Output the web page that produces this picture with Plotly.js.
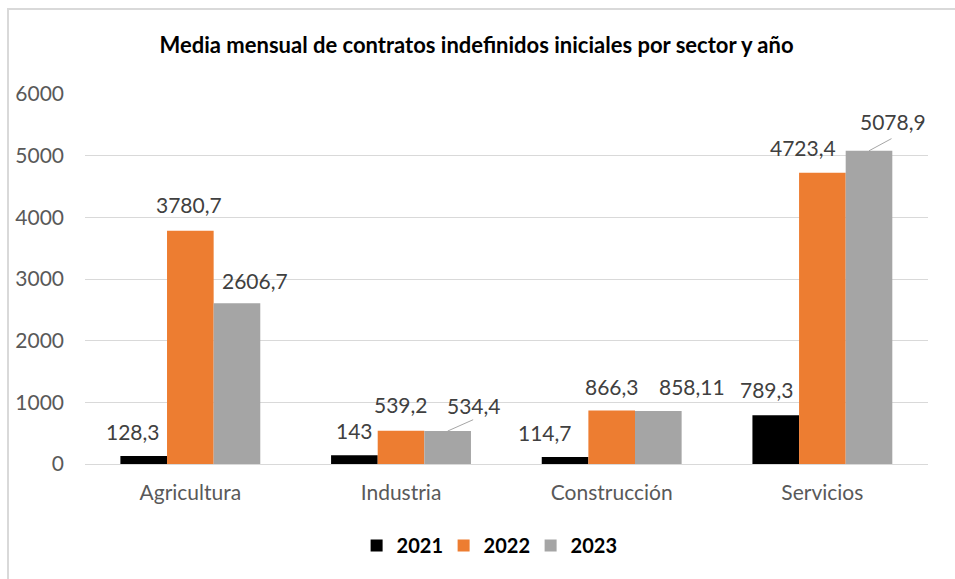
<!DOCTYPE html>
<html>
<head>
<meta charset="utf-8">
<script src="https://cdn.plot.ly/plotly-3.0.1.min.js"></script>
<style>
  html, body { margin: 0; padding: 0; background: #fff; }
  #chart { width: 955px; height: 579px; position: absolute; left: 0; top: 0; }
  #frame { position: absolute; left: 7px; top: 8px; width: 960px; height: 600px;
           border-left: 2px solid #D9D9D9; border-top: 2px solid #D9D9D9; pointer-events: none; }
</style>
</head>
<body>
<div id="chart"></div>
<div id="frame"></div>
<script>
// ---- data ----
const categories = ['Agricultura', 'Industria', 'Construcción', 'Servicios'];
const years = ['2021', '2022', '2023'];
const values2021 = [128.3, 143, 114.7, 789.3];
const values2022 = [3780.7, 539.2, 866.3, 4723.4];
const values2023 = [2606.7, 534.4, 858.11, 5078.9];
const yTicks = [0, 1000, 2000, 3000, 4000, 5000, 6000];

// ---- style ----
const colors = ['#000000', '#ED7D31', '#A5A5A5'];
const FONT = 'Lato, "Open Sans", sans-serif';
const bargap = 0.336;
// per-label pixel offsets [xshift, yshift] (label placement as in the original)
const labelShift = [
  [[-11, 25], [0, 25], [-20, 24], [-9, 26]],
  [[-1, 26], [0, 26], [0, 24], [-19, 25]],
  [[18, 23], [26, 26], [34, 25], [24, 29]]
];
// leader lines [seriesIndex, categoryIndex, dx, dy]
const leaders = [[2, 1, 27, -12], [2, 3, 24, -13]];

const series = [values2021, values2022, values2023];
const fmt = v => String(v).replace('.', ',');

const traces = series.map((vals, i) => ({
  type: 'bar',
  name: years[i],
  x: categories,
  y: vals,
  marker: { color: colors[i] },
  hoverinfo: 'none'
}));

const barW = (1 - bargap) / series.length;
const annotations = [];
series.forEach((vals, i) => {
  const off = (i - (series.length - 1) / 2) * barW;
  vals.forEach((v, j) => {
    annotations.push({
      x: j + off, y: v, xref: 'x', yref: 'y',
      text: fmt(v), showarrow: false,
      xanchor: 'center', yanchor: 'middle',
      xshift: labelShift[i][j][0], yshift: labelShift[i][j][1],
      font: { family: FONT, size: 21, color: '#404040' }
    });
  });
});
leaders.forEach(([i, j, dx, dy]) => {
  const off = (i - (series.length - 1) / 2) * barW;
  annotations.push({
    x: j + off, y: series[i][j], xref: 'x', yref: 'y',
    text: '', showarrow: true, arrowhead: 0, arrowwidth: 1,
    arrowcolor: '#A6A6A6', ax: dx, ay: dy, standoff: 0, startstandoff: 0
  });
});

const layout = {
  width: 955, height: 579,
  margin: { l: 85, r: 27, t: 94, b: 115 },
  paper_bgcolor: '#ffffff', plot_bgcolor: '#ffffff',
  barmode: 'group', bargap: bargap, bargroupgap: 0,
  title: {
    text: 'Media mensual de contratos indefinidos iniciales por sector y año',
    font: { family: FONT, size: 22, color: '#000000', weight: 'bold' },
    x: 0.499, xanchor: 'center', xref: 'container',
    y: 1 - 45 / 579, yanchor: 'middle', yref: 'container'
  },
  xaxis: {
    type: 'category',
    tickfont: { family: FONT, size: 21, color: '#595959' },
    ticks: '', showline: false, showgrid: false, zeroline: false,
    ticklabelstandoff: 14, fixedrange: true
  },
  yaxis: {
    range: [0, 6000], tickvals: yTicks, ticktext: yTicks.map(String),
    tickfont: { family: FONT, size: 21, color: '#595959' },
    ticks: '', showline: false, showgrid: true, gridcolor: '#D9D9D9', gridwidth: 1,
    zeroline: true, zerolinecolor: '#D9D9D9', zerolinewidth: 1,
    ticklabelstandoff: 20, fixedrange: true
  },
  showlegend: true,
  legend: {
    orientation: 'h', x: 0.477, xanchor: 'center', y: -0.2206, yanchor: 'middle',
    font: { family: FONT, size: 20, color: '#000000', weight: 'bold' },
    entrywidth: 42, itemclick: false, itemdoubleclick: false
  },
  annotations: annotations
};

Plotly.newPlot('chart', traces, layout, { displayModeBar: false, staticPlot: true });
</script>
</body>
</html>
